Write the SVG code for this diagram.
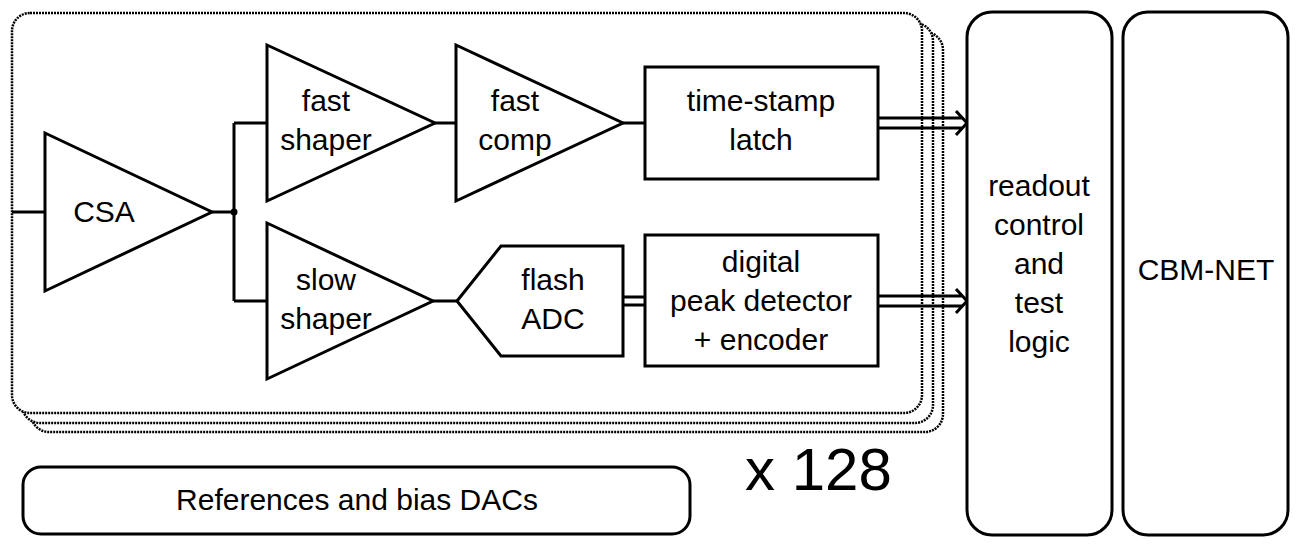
<svg xmlns="http://www.w3.org/2000/svg" width="1302" height="546" viewBox="0 0 1302 546">
<style>
.dot{fill:#fff;stroke:#000;stroke-width:2.5;stroke-dasharray:2 1}
.blk{fill:#fff;stroke:#000;stroke-width:3;stroke-linejoin:miter}
.ln{fill:none;stroke:#000;stroke-width:3}
text{font-family:"Liberation Sans",Arial,sans-serif;font-size:30px;fill:#000;text-anchor:middle}
</style>
<rect width="1302" height="546" fill="#fff"/>
<g id="channels">
<rect class="dot" x="31" y="32" width="912" height="400" rx="18"/>
<rect class="dot" x="22" y="23" width="911" height="400" rx="18"/>
<rect class="dot" x="12" y="13" width="910" height="400" rx="18"/>
</g>
<g id="connectors">
<path class="ln" d="M12,212H45 M212,212H234 M234,123V301 M234,123H267 M234,301H267 M435,123H456 M623,123H645 M433,301H457"/>
<circle cx="234" cy="212" r="3.5" fill="#000"/>
<path class="ln" d="M623,297H645 M623,305H645"/>
<path class="ln" d="M878,118H962 M878,128H962 M956,111L967,123L956,135"/>
<path class="ln" d="M878,296H962 M878,306H962 M956,289L967,301L956,313"/>
</g>
<g id="csa"><polygon class="blk" points="45,133 212,212 45,291"/><text x="104" y="222">CSA</text></g>
<g id="fast-shaper"><polygon class="blk" points="267,45 435,123 267,201"/><text x="326" y="111">fast</text><text x="326" y="150">shaper</text></g>
<g id="fast-comp"><polygon class="blk" points="456,45 623,123 456,201"/><text x="515" y="111">fast</text><text x="515" y="150">comp</text></g>
<g id="latch"><rect class="blk" x="645" y="67" width="233" height="112"/><text x="761" y="111">time-stamp</text><text x="761" y="150">latch</text></g>
<g id="slow-shaper"><polygon class="blk" points="267,223 433,301 267,379"/><text x="326" y="290">slow</text><text x="326" y="329">shaper</text></g>
<g id="flash-adc"><polygon class="blk" points="457,301 501,246 623,246 623,356 501,356"/><text x="553" y="290">flash</text><text x="553" y="329">ADC</text></g>
<g id="peak"><rect class="blk" x="645" y="235" width="233" height="131"/><text x="761" y="272">digital</text><text x="761" y="311">peak detector</text><text x="761" y="350">+ encoder</text></g>
<g id="readout"><rect class="blk" x="967" y="12" width="145" height="523" rx="25"/><text x="1039" y="196">readout</text><text x="1039" y="235">control</text><text x="1039" y="274">and</text><text x="1039" y="313">test</text><text x="1039" y="352">logic</text></g>
<g id="cbmnet"><rect class="blk" x="1123" y="12" width="165" height="523" rx="25"/><text x="1206" y="280">CBM-NET</text></g>
<g id="refs"><rect class="blk" x="23" y="467" width="667" height="67" rx="18"/><text x="357" y="510">References and bias DACs</text></g>
<g id="mult"><text x="745" y="490" style="font-size:60px;text-anchor:start">x 128</text></g>
</svg>
